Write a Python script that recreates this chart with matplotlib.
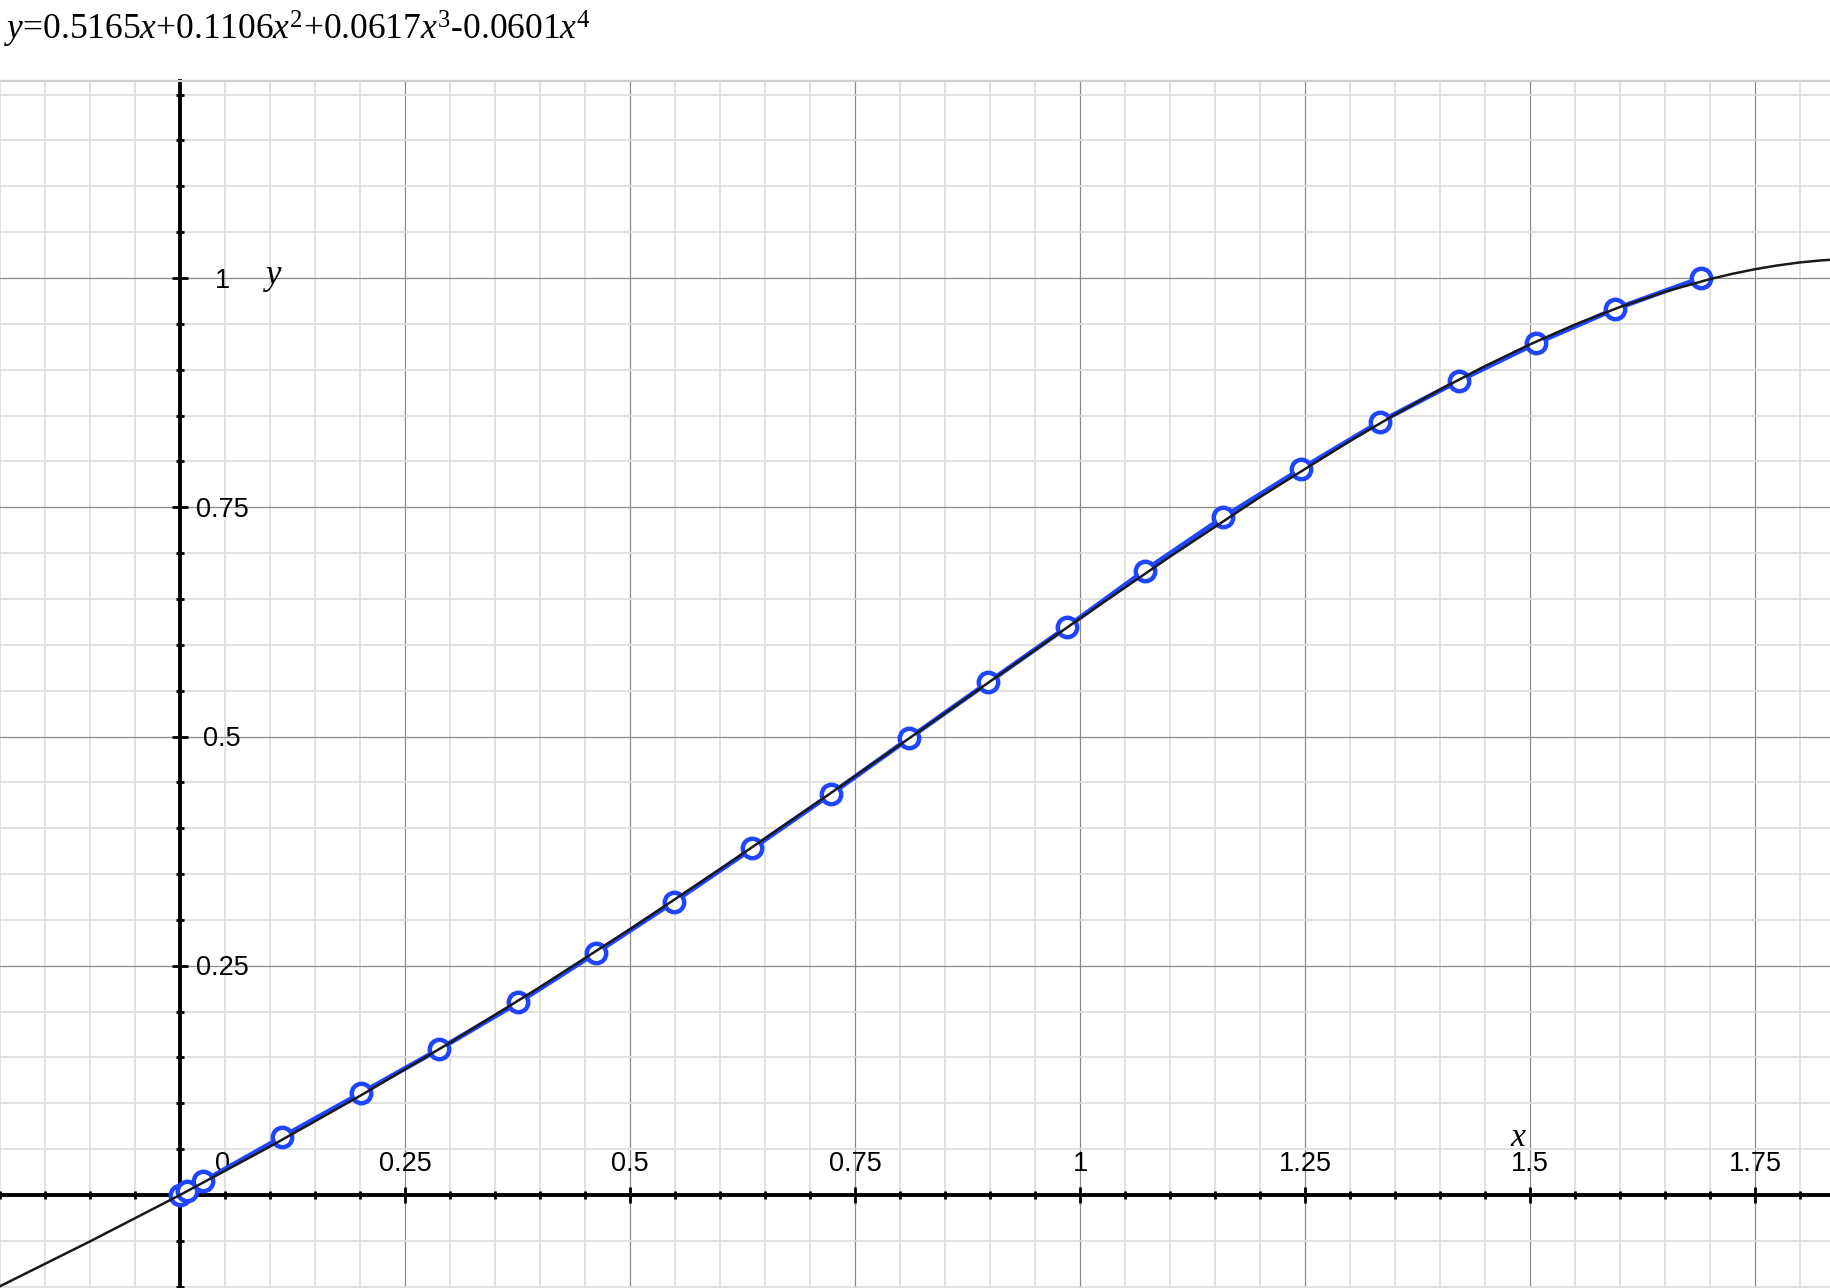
import numpy as np
import matplotlib
matplotlib.use("Agg")
import matplotlib.pyplot as plt
from matplotlib.ticker import MultipleLocator

plt.rcParams['mathtext.fontset'] = 'custom'
plt.rcParams['mathtext.rm'] = 'Liberation Serif'
plt.rcParams['mathtext.it'] = 'Liberation Serif:italic'

curve_x = [-0.2, -0.1, 0.0, 0.1, 0.2, 0.3, 0.4, 0.5, 0.6, 0.7, 0.8, 0.9, 1.0,
           1.1, 1.2, 1.3, 1.35, 1.4, 1.45, 1.5, 1.55, 1.6, 1.65, 1.7, 1.725,
           1.75, 1.775, 1.8, 1.825, 1.85]
curve_y = [-0.0995, -0.0506, 0.0, 0.0528, 0.1081, 0.1661, 0.2267, 0.2899,
           0.3553, 0.4225, 0.4910, 0.5600, 0.6287, 0.6961, 0.7611, 0.8223,
           0.8510, 0.8783, 0.9039, 0.9276, 0.9492, 0.9684, 0.9850, 0.9988,
           1.0046, 1.0096, 1.0137, 1.0170, 1.0193, 1.0207]

# measured points (blue)
pts_x = [0.0, 0.008, 0.026, 0.113, 0.201, 0.288, 0.376, 0.462, 0.549, 0.636,
         0.723, 0.810, 0.898, 0.985, 1.072, 1.159, 1.246, 1.333, 1.421, 1.507,
         1.594, 1.690]
pts_y = [0.0, 0.004, 0.015, 0.063, 0.111, 0.159, 0.210, 0.264, 0.320, 0.378,
         0.437, 0.498, 0.559, 0.619, 0.681, 0.739, 0.792, 0.843, 0.888, 0.929,
         0.966, 1.000]

xticks = [0.25, 0.5, 0.75, 1, 1.25, 1.5, 1.75]
xtick_labels = ['0.25', '0.5', '0.75', '1', '1.25', '1.5', '1.75']
yticks = [0.25, 0.5, 0.75, 1]
ytick_labels = ['0.25', '0.5', '0.75', '1']
title = r'$y$=0.5165$x$+0.1106$x^2$+0.0617$x^3$-0.0601$x^4$'

W, H = 1830, 1288
fig = plt.figure(figsize=(W / 100, H / 100), dpi=100)
top_px = 81
ax = fig.add_axes([0, 0, 1, (H - top_px) / H])

x0_px, y0_px = 180, 1195
sx, sy = 900.0, 917.0
ax.set_xlim(-x0_px / sx, (W - x0_px) / sx)
ax.set_ylim((y0_px - H) / sy, (y0_px - top_px) / sy)

# grid
ax.xaxis.set_major_locator(MultipleLocator(0.25))
ax.yaxis.set_major_locator(MultipleLocator(0.25))
ax.xaxis.set_minor_locator(MultipleLocator(0.05))
ax.yaxis.set_minor_locator(MultipleLocator(0.05))
ax.grid(which='minor', color='#dcdcdc', lw=1.2, zorder=0)
ax.grid(which='major', color='#8a8a8a', lw=0.9, zorder=0)
ax.set_axisbelow(True)

# axes through origin
ax.spines['right'].set_visible(False)
ax.spines['top'].set_color('#cfcfcf')
ax.spines['top'].set_linewidth(1.6)
ax.spines['left'].set_position(('data', 0))
ax.spines['bottom'].set_position(('data', 0))
ax.spines['left'].set_linewidth(2.8)
ax.spines['bottom'].set_linewidth(2.8)
ax.tick_params(which='major', direction='inout', length=11.5, width=2.0,
               labelbottom=False, labelleft=False)
ax.tick_params(which='minor', direction='inout', length=5.5, width=2.0)

# tick labels drawn by hand (labels sit inside the plot)
lab_font = dict(family='Liberation Sans', fontsize=19.5, color='black')
for v, t in zip(xticks, xtick_labels):
    ax.text(v, 0.026, t, ha='center', va='baseline', **lab_font)
ax.text(0.047, 0.026, '0', ha='center', va='baseline', **lab_font)
for v, t in zip(yticks, ytick_labels):
    ax.text(0.047, v - 0.0105, t, ha='center', va='baseline', **lab_font)

ax.text(0.103, 0.9935, r'$y$', ha='center', va='baseline', fontsize=25)
ax.text(1.487, 0.0534, r'$x$', ha='center', va='baseline', fontsize=24)

# data
ax.plot(pts_x, pts_y, color='#1f45ff', lw=3.5, zorder=3,
        marker='o', ms=14, mew=3.2, mfc='white', mec='#1f45ff')
ax.plot(curve_x, curve_y, color='#1a1a1a', lw=1.8, zorder=4)

fig.text(4 / W, 1 - 40 / H, title, fontsize=25.5, family='Liberation Serif',
         ha='left', va='baseline')

fig.savefig('out.png', dpi=100)
